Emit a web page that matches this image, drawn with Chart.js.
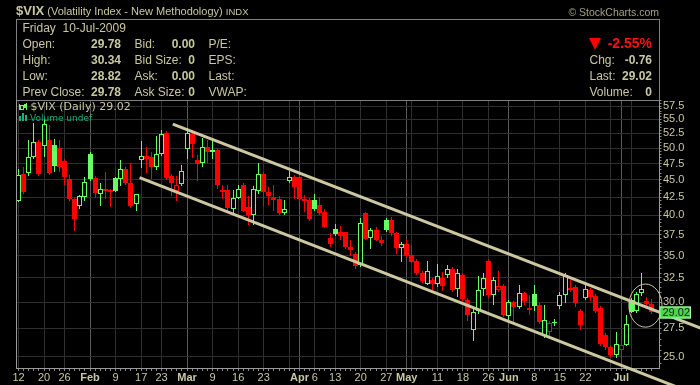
<!DOCTYPE html>
<html><head><meta charset="utf-8">
<script src="https://cdn.jsdelivr.net/npm/chart.js@4.4.1/dist/chart.umd.min.js"></script>
<style>
html,body{margin:0;padding:0;background:#000;}
#wrap{position:relative;width:700px;height:385px;background:#000;overflow:hidden;font-family:'Liberation Sans',Arial,sans-serif;color:#c9c7a1;}
#c{position:absolute;left:0;top:0;}
.t{position:absolute;white-space:pre;line-height:16px;font-size:12px;}
.b{font-weight:bold;}
.ra{text-align:right;}
</style></head><body>
<div id="wrap">
<canvas id="c" width="700" height="385"></canvas>
<div style="position:absolute;left:16px;top:19px;width:642px;height:80px;border:1px solid #808080;"></div>
<div style="position:absolute;left:16px;top:100px;width:1px;height:268px;background:#9a9a9a;"></div>

<div class="t" style="left:16px;top:3px;"><span class="b" style="font-size:13px">$VIX</span><span style="font-size:11px"> (Volatility Index - New Methodology) </span><span style="font-size:9.5px">INDX</span></div>
<div class="t" style="right:41px;top:4px;font-size:10.5px;color:#a3a184;">© StockCharts.com</div>

<div class="t" style="left:22.5px;top:19.5px;">Friday  10-Jul-2009</div>
<div class="t" style="left:22.5px;top:35.5px;">Open:</div>
<div class="t" style="left:22.5px;top:51.5px;">High:</div>
<div class="t" style="left:22.5px;top:67.5px;">Low:</div>
<div class="t" style="left:22.5px;top:83.5px;">Prev Close:</div>
<div class="t b ra" style="right:579px;top:35.5px;">29.78</div>
<div class="t b ra" style="right:579px;top:51.5px;">30.34</div>
<div class="t b ra" style="right:579px;top:67.5px;">28.82</div>
<div class="t b ra" style="right:579px;top:83.5px;">29.78</div>
<div class="t" style="left:134.5px;top:35.5px;">Bid:</div>
<div class="t" style="left:134.5px;top:51.5px;">Bid Size:</div>
<div class="t" style="left:134.5px;top:67.5px;">Ask:</div>
<div class="t" style="left:134.5px;top:83.5px;">Ask Size:</div>
<div class="t b ra" style="right:505px;top:35.5px;">0.00</div>
<div class="t b ra" style="right:505px;top:51.5px;">0</div>
<div class="t b ra" style="right:505px;top:67.5px;">0.00</div>
<div class="t b ra" style="right:505px;top:83.5px;">0</div>
<div class="t" style="left:208.5px;top:35.5px;">P/E:</div>
<div class="t" style="left:208.5px;top:51.5px;">EPS:</div>
<div class="t" style="left:208.5px;top:67.5px;">Last:</div>
<div class="t" style="left:208.5px;top:83.5px;">VWAP:</div>

<div style="position:absolute;left:589px;top:37.5px;width:0;height:0;border-left:6px solid transparent;border-right:6px solid transparent;border-top:12px solid #ff0000;"></div>
<div class="t b ra" style="right:48px;top:35px;font-size:14px;color:#ff1010;">-2.55%</div>
<div class="t" style="left:589.5px;top:51.5px;">Chg:</div>
<div class="t" style="left:589.5px;top:67.5px;">Last:</div>
<div class="t" style="left:589.5px;top:83.5px;">Volume:</div>
<div class="t b ra" style="right:48px;top:51.5px;">-0.76</div>
<div class="t b ra" style="right:48px;top:67.5px;">29.02</div>
<div class="t b ra" style="right:48px;top:83.5px;">0</div>

<!-- legend icons -->
<div style="position:absolute;left:19px;top:104px;width:1px;height:6px;background:#66ff66;"></div>
<div style="position:absolute;left:20px;top:105px;width:2px;height:3px;border:1px solid #66ff66;"></div>
<div style="position:absolute;left:24px;top:104px;width:3px;height:4px;background:#66ff66;"></div>
<div style="position:absolute;left:26px;top:103px;width:1px;height:7px;background:#66ff66;"></div>
<div class="t" style="left:30.5px;top:99.5px;font-family:'DejaVu Sans';font-size:11px;line-height:14px;">$VIX (Daily) 29.02</div>
<div style="position:absolute;left:19px;top:116px;width:2px;height:5px;background:#1fae7a;"></div>
<div style="position:absolute;left:22px;top:113px;width:2px;height:8px;background:#1fae7a;"></div>
<div style="position:absolute;left:25px;top:115px;width:2px;height:6px;background:#1fae7a;"></div>
<div class="t" style="left:30px;top:111.5px;font-family:'DejaVu Sans';font-size:9px;line-height:12px;color:#1fae7a;">Volume undef</div>
</div>
<script>
// ---- data ----
const startDate = '2009-01-12';
const endDate = '2009-07-10';
const holidays = ['2009-01-19','2009-02-16','2009-04-10','2009-05-25','2009-07-03'];
const monthNames = ['Jan','Feb','Mar','Apr','May','Jun','Jul','Aug','Sep','Oct','Nov','Dec'];

const openP = [42.0,45.9,46.0,48.6,51.0,50.3,51.3,50.5,50.1,47.9,
45.1,42.2,41.2,42.5,49.1,45.3,43.0,43.6,43.5,45.3,
45.1,46.6,44.5,41.5,48.0,48.7,48.5,46.9,49.0,52.5,
45.6,43.4,44.4,49.9,52.4,48.1,47.6,50.2,49.3,49.7,
43.5,43.5,40.9,42.4,44.2,41.1,40.0,43.3,45.9,43.2,
42.5,42.3,40.3,44.8,45.4,45.4,42.3,42.1,42.1,41.4,
40.4,37.1,38.2,37.8,37.8,36.0,35.2,33.9,40.3,37.1,
38.1,36.8,39.4,39.4,37.7,35.9,36.4,35.1,34.4,33.0,
31.8,32.3,31.9,32.5,32.8,33.5,31.3,32.8,30.2,27.3,
29.1,31.3,34.4,30.7,31.2,31.6,28.6,30.0,29.5,30.9,
29.2,30.8,29.7,26.8,27.2,28.0,29.6,30.7,31.2,31.5,
29.1,30.4,31.2,30.6,29.4,26.9,25.8,25.2,25.6,26.0,
30.2,29.1,30.9,30.1,29.78];
const highP = [46.6,46.9,51.3,54.3,51.4,55.0,54.0,51.6,51.3,48.2,
45.8,42.4,42.8,45.5,49.3,45.6,44.5,46.2,43.7,45.5,
48.1,46.9,47.6,43.0,51.2,50.2,49.3,52.0,53.1,52.9,
45.9,45.6,47.3,53.4,53.1,48.9,51.7,51.3,51.4,49.9,
44.2,44.2,43.5,44.2,44.6,42.6,44.1,47.6,46.2,43.9,
44.2,42.6,42.1,46.3,45.7,45.7,42.8,42.4,43.0,42.5,
40.9,37.7,38.9,38.6,37.9,36.8,35.4,39.6,40.5,38.3,
38.5,37.4,39.7,39.8,37.9,36.6,36.9,36.1,34.6,33.2,
34.4,32.5,34.0,33.1,33.9,33.7,33.5,33.0,30.4,29.3,
32.7,33.0,34.6,32.6,33.2,31.8,30.2,30.1,31.7,31.0,
30.7,31.7,29.9,29.7,28.2,28.4,31.0,33.0,32.3,31.7,
29.3,31.7,31.4,30.8,29.6,27.1,26.0,27.2,26.2,28.7,
30.4,31.0,33.0,30.5,30.34];
const lowP = [41.8,43.0,45.6,48.3,45.6,48.6,45.8,46.2,46.2,44.2,
42.0,38.0,40.9,41.9,44.9,42.4,41.3,42.2,41.1,43.2,
44.1,44.2,41.0,40.6,46.8,46.0,45.2,46.5,48.7,45.0,
42.7,41.9,44.1,48.3,48.4,44.9,46.9,47.6,48.2,43.6,
42.3,40.6,40.1,42.2,40.5,38.7,38.7,43.0,41.2,41.4,
40.6,40.0,40.0,44.5,42.3,42.0,40.4,39.2,40.6,40.0,
38.4,36.0,37.3,36.8,35.8,34.9,33.5,33.7,36.8,35.8,
36.7,36.1,37.9,37.4,35.2,34.3,34.8,34.1,32.8,32.0,
31.7,31.2,31.5,31.1,32.5,31.0,30.5,30.1,28.2,26.4,
28.8,30.6,30.4,29.7,31.0,28.5,28.3,28.1,29.3,29.7,
28.7,29.1,27.9,26.6,26.7,27.7,29.3,29.9,31.0,29.5,
27.3,30.2,30.1,28.9,25.9,25.6,25.0,24.9,24.6,25.9,
28.9,28.9,30.6,29.3,28.82];
const closeP = [45.8,43.2,48.6,51.0,45.9,54.2,46.1,47.1,46.9,45.4,
42.2,39.5,42.6,44.7,45.2,43.1,43.6,43.4,43.2,43.4,
46.6,44.5,41.2,42.9,48.7,48.2,46.9,49.0,52.4,45.3,
44.6,44.3,46.3,52.6,50.7,47.5,50.2,49.3,49.7,44.2,
43.2,41.0,42.4,43.7,40.6,40.0,43.7,45.9,43.2,42.7,
42.1,40.3,40.9,45.4,43.9,42.3,42.0,39.5,40.9,40.3,
38.5,36.4,37.6,37.4,36.0,35.7,33.8,39.0,37.0,38.1,
36.9,36.5,38.1,37.7,35.9,36.4,35.0,34.3,33.0,32.2,
33.2,31.9,32.7,31.6,33.5,31.2,33.0,30.3,28.7,29.0,
31.2,32.5,30.7,32.3,31.6,28.7,30.0,29.5,30.9,30.1,
29.4,29.6,28.1,28.3,28.0,28.1,30.7,32.8,31.4,29.9,
27.8,31.3,30.5,29.1,26.1,25.8,25.2,26.1,26.0,27.9,
29.0,30.85,31.3,29.78,29.02];

const yTickValues = [25,27.5,30,32.5,35,37.5,40,42.5,45,47.5,50,52.5,55,57.5];
// trend channel drawn on the chart: [trading-day index, value]
const upperChannel = [[30.2,54.15],[135,27.26]];
const lowerChannel = [[23.7,45.35],[132,22.17]];
// highlight ellipse: trading-day index range and value range
const circleIdx = [119.5,126];
const circleVal = [27.6,31.85];

// ---- derived ----
const dates = [];
for (let d = new Date(startDate+'T00:00:00Z'); d <= new Date(endDate+'T00:00:00Z'); d.setUTCDate(d.getUTCDate()+1)) {
  const w = d.getUTCDay(); const s = d.toISOString().slice(0,10);
  if (w > 0 && w < 6 && !holidays.includes(s)) dates.push(s);
}
const dInfo = dates.map((s,i) => {
  const d = new Date(s+'T00:00:00Z');
  const p = i > 0 ? new Date(dates[i-1]+'T00:00:00Z') : null;
  return {d, month: i > 0 && d.getUTCMonth() !== p.getUTCMonth(), week: i === 0 || d.getUTCDay() <= p.getUTCDay()};
});
const xLabels = dInfo.map((o,i) => {
  if (o.month) return monthNames[o.d.getUTCMonth()];
  if (o.week) {
    for (let j = Math.max(0,i-2); j <= Math.min(dInfo.length-1,i+2); j++) if (j !== i && dInfo[j].month) return '';
    return String(o.d.getUTCDate());
  }
  return '';
});

const GREEN = '#66ff66', RED = '#ff0000', TXT = '#c9c7a1', CH = '#cdc8a0';
const col = closeP.map((c,i) => (i === 0 ? c >= openP[i] : c >= closeP[i-1]) ? GREEN : RED);
const hollow = closeP.map((c,i) => c > openP[i]);

const yMinor = [];
for (let v = 24.5; v <= 58.5; v += 0.5) yMinor.push(v);

// snap bar elements to whole pixels so candles render crisp
const snapPlugin = {
  id: 'snap',
  beforeDatasetsDraw(chart) {
    chart.data.datasets.forEach((ds, di) => {
      if (ds.type !== 'bar') return;
      chart.getDatasetMeta(di).data.forEach(el => {
        el.x = Math.floor(el.x) + 0.5;
        let a = Math.round(el.y), b = Math.round(el.base);
        if (Math.abs(a - b) < 1) b = a + 1;
        el.y = a; el.base = b;
      });
    });
  }
};
const ellipsePlugin = {
  id: 'ellipse',
  afterDatasetsDraw(chart) {
    const {ctx, scales: {x, y}} = chart;
    const x1 = x.getPixelForValue(circleIdx[0]), x2 = x.getPixelForValue(circleIdx[1]);
    const y1 = y.getPixelForValue(circleVal[1]), y2 = y.getPixelForValue(circleVal[0]);
    ctx.save();
    ctx.strokeStyle = CH; ctx.lineWidth = 1;
    ctx.beginPath();
    ctx.ellipse((x1+x2)/2, (y1+y2)/2, (x2-x1)/2, (y2-y1)/2, 0, 0, Math.PI*2);
    ctx.stroke();
    ctx.restore();
  }
};
const tagPlugin = {
  id: 'tag',
  afterDraw(chart) {
    const {ctx, chartArea, scales: {y}} = chart;
    const v = closeP[closeP.length-1];
    const py = Math.round(y.getPixelForValue(v));
    const x0 = Math.round(chartArea.right) - 0.5;
    ctx.save();
    ctx.fillStyle = '#4fd44f';
    ctx.fillRect(x0, py-5.5, 31.5, 12);
    ctx.strokeStyle = '#a8ffa8'; ctx.lineWidth = 1;
    ctx.strokeRect(x0+0.5, py-5, 30.5, 11);
    ctx.fillStyle = '#1a1a1a';
    ctx.font = "11px 'Liberation Sans'";
    ctx.textBaseline = 'middle'; ctx.textAlign = 'left';
    ctx.fillText(v.toFixed(2), x0+3, py+0.5);
    ctx.restore();
  }
};

Chart.defaults.font.family = "'Liberation Sans', Arial, sans-serif";
new Chart(document.getElementById('c'), {
  type: 'bar',
  data: {
    datasets: [
      {type:'line', data: upperChannel.map(p => ({x:p[0], y:p[1]})), borderColor: CH, borderWidth: 3, pointRadius: 0, clip: false, order: 0, borderCapStyle: 'butt'},
      {type:'line', data: lowerChannel.map(p => ({x:p[0], y:p[1]})), borderColor: CH, borderWidth: 3, pointRadius: 0, clip: false, order: 0, borderCapStyle: 'butt'},
      {type:'bar', data: closeP.map((c,i) => ({x:i, y:[openP[i], c]})), backgroundColor: hollow.map((h,i) => h ? '#000' : col[i]), borderColor: col, borderWidth: 1, borderSkipped: false, inflateAmount: 0, barThickness: 5, grouped: false, order: 1},
      {type:'bar', data: closeP.map((c,i) => ({x:i, y:[lowP[i], highP[i]]})), backgroundColor: col, borderWidth: 0, inflateAmount: 0, barThickness: 1, grouped: false, order: 2}
    ]
  },
  options: {
    responsive: false, animation: false, devicePixelRatio: 1,
    layout: {padding: {left: 16, top: 100, right: 0, bottom: 0}},
    plugins: {legend: {display: false}, tooltip: {enabled: false}},
    scales: {
      x: {
        type: 'linear', min: -0.5, max: 125.5, offset: false, position: 'bottom',
        afterBuildTicks: s => { s.ticks = dates.map((d,i) => ({value: i})); },
        afterFit: s => { s.height = 17; },
        grid: {
          offset: false, drawTicks: true, tickLength: 3, tickColor: '#8a8a8a',
          color: ctx => { const t = ctx.tick; if (!t) return 'rgba(0,0,0,0)'; const o = dInfo[t.value]; if (!o) return 'rgba(0,0,0,0)'; return o.month ? '#5a5a5a' : (o.week ? '#2f2f2f' : 'rgba(0,0,0,0)'); }
        },
        border: {color: '#9a9a9a', width: 1},
        ticks: {
          autoSkip: false, maxRotation: 0, minRotation: 0, padding: 0, color: TXT,
          font: ctx => { const o = ctx.tick ? dInfo[ctx.tick.value] : null; return {size: 11, weight: (o && o.month) ? 'bold' : 'normal'}; },
          callback: v => xLabels[v] || ''
        }
      },
      y: {
        type: 'logarithmic', position: 'right', min: 24.10, max: 58.66,
        afterBuildTicks: s => { s.ticks = yMinor.map(v => ({value: v})); },
        afterFit: s => { s.width = 40.5; },
        grid: {
          drawTicks: true, tickLength: 2, tickColor: '#8a8a8a',
          color: ctx => { const t = ctx.tick; return (t && yTickValues.some(v => Math.abs(v - t.value) < 1e-6)) ? '#2f2f2f' : 'rgba(0,0,0,0)'; }
        },
        border: {color: '#9a9a9a', width: 1},
        ticks: {
          autoSkip: false, padding: 1.5, color: TXT, font: {size: 11},
          callback: v => yTickValues.some(t => Math.abs(t - v) < 1e-6) ? v.toFixed(1) : ''
        }
      }
    }
  },
  plugins: [snapPlugin, ellipsePlugin, tagPlugin]
});
</script>
</body></html>
